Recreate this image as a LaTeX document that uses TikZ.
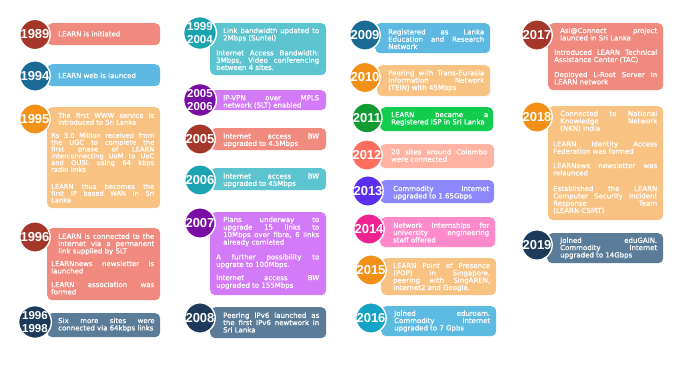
\documentclass[tikz,border=0pt]{standalone}
\usepackage{fontspec}
\setmainfont{DejaVu Sans}
\newfontfamily\txfont{DejaVu Sans}[FakeBold=0.8]
\newfontfamily\yrfont{Liberation Sans}
\hbadness=10000
\hfuzz=3pt
\tolerance=10000
\definecolor{salB}{HTML}{F08A7E}
\definecolor{redC}{HTML}{A5372A}
\definecolor{bluB}{HTML}{5DB8E2}
\definecolor{bluC}{HTML}{1B6A96}
\definecolor{orgB}{HTML}{F8C282}
\definecolor{orgC}{HTML}{F29018}
\definecolor{slaB}{HTML}{5B7C98}
\definecolor{navC}{HTML}{1D3A5A}
\definecolor{teaB}{HTML}{5CC4CE}
\definecolor{teaC}{HTML}{1AA3B0}
\definecolor{purB}{HTML}{D27AF8}
\definecolor{purC}{HTML}{7A0DA6}
\definecolor{grnB}{HTML}{12CC4E}
\definecolor{grnC}{HTML}{139B33}
\definecolor{pchB}{HTML}{FFB3A3}
\definecolor{corC}{HTML}{FF6E5E}
\definecolor{perB}{HTML}{8C87FF}
\definecolor{perC}{HTML}{5B2EEF}
\definecolor{pnkB}{HTML}{FF8ACB}
\definecolor{pnkC}{HTML}{EE2290}
\definecolor{cyaB}{HTML}{5DBAE0}
\definecolor{cyaC}{HTML}{14A3C4}
\tikzset{
  yr/.style={circle, fill=#1, draw=white, line width=1.4pt, minimum size=30pt,
    inner sep=0pt, text=white, font=\yrfont\bfseries\fontsize{13}{13}\selectfont},
  yrtwo/.style={yr=#1, align=center, font=\yrfont\bfseries\fontsize{11.5}{12.3}\selectfont},
  bx/.style={rectangle, fill=#1, rounded corners=5pt, inner sep=0pt, anchor=north west},
  tx/.style={anchor=north west, inner sep=0pt, text=white, align=justify, yshift=-0.6pt,
    text width=#1, font=\txfont\fontsize{7}{7.3}\selectfont},
  txs/.style={tx=#1, font=\txfont\fontsize{6.7}{6.8}\selectfont},
}
\begin{document}
\begin{tikzpicture}[x=1pt,y=-1pt]
\useasboundingbox (0,0) rectangle (680,374);
% ---------- boxes ----------
\node[bx=salB, minimum width=113pt, minimum height=22pt] (b1989) at (47,23) {};
\node[bx=bluB, minimum width=113pt, minimum height=22pt] (b1994) at (47,64) {};
\node[bx=orgB, minimum width=113pt, minimum height=101pt] (b1995) at (47,107) {};
\node[bx=salB, minimum width=113pt, minimum height=72pt] (b1996) at (47,228) {};
\node[bx=slaB, minimum width=113pt, minimum height=24pt] (b9698) at (47,313) {};
\node[bx=teaB, minimum width=116pt, minimum height=52pt] (b9904) at (210,23) {};
\node[bx=purB, minimum width=116pt, minimum height=20pt] (b0506) at (210,90) {};
\node[bx=salB, minimum width=116pt, minimum height=22pt] (b2005) at (210,128) {};
\node[bx=teaB, minimum width=116pt, minimum height=22pt] (b2006) at (210,168) {};
\node[bx=purB, minimum width=116pt, minimum height=83pt] (b2007) at (210,212) {};
\node[bx=slaB, minimum width=116pt, minimum height=31pt] (b2008) at (210,307) {};
\node[bx=bluB, minimum width=115pt, minimum height=30pt] (b2009) at (375,23) {};
\node[bx=orgB, minimum width=113pt, minimum height=31pt] (b2010) at (377,65) {};
\node[bx=grnB, minimum width=113pt, minimum height=24pt] (b2011) at (380,107) {};
\node[bx=pchB, minimum width=114pt, minimum height=24pt] (b2012) at (380,144) {};
\node[bx=perB, minimum width=114pt, minimum height=23pt] (b2013) at (380,180) {};
\node[bx=pnkB, minimum width=115pt, minimum height=30pt] (b2014) at (380,217) {};
\node[bx=orgB, minimum width=115pt, minimum height=37pt] (b2015) at (381,258) {};
\node[bx=cyaB, minimum width=115pt, minimum height=30pt] (b2016) at (381,306) {};
\node[bx=salB, minimum width=115pt, minimum height=67pt] (b2017) at (548,23) {};
\node[bx=orgB, minimum width=115pt, minimum height=114pt] (b2018) at (548,106) {};
\node[bx=slaB, minimum width=116pt, minimum height=30pt] (b2019) at (547,233) {};
% ---------- year circles ----------
\node[yr=redC] (c1989) at (35,34.5) {1989};
\node[yr=bluC] (c1994) at (35,76) {1994};
\node[yr=orgC] (c1995) at (35,119) {1995};
\node[yr=redC] (c1996) at (35,237) {1996};
\node[yrtwo=navC] (c9698) at (35,322) {1996\\1998};
\node[yrtwo=teaC] (c9904) at (200,33) {1999\\2004};
\node[yrtwo=purC] (c0506) at (200,100) {2005\\2006};
\node[yr=redC] (c2005) at (200,139) {2005};
\node[yr=teaC] (c2006) at (200,180) {2006};
\node[yr=purC] (c2007) at (200,223) {2007};
\node[yr=navC] (c2008) at (200,318) {2008};
\node[yr=bluC] (c2009) at (365,35) {2009};
\node[yr=orgC] (c2010) at (365,77.5) {2010};
\node[yr=grnC] (c2011) at (367,118) {2011};
\node[yr=corC] (c2012) at (367,155) {2012};
\node[yr=perC] (c2013) at (368,191) {2013};
\node[yr=pnkC] (c2014) at (369,229) {2014};
\node[yr=orgC] (c2015) at (371,270) {2015};
\node[yr=cyaC] (c2016) at (371,318) {2016};
\node[yr=redC] (c2017) at (537,35) {2017};
\node[yr=orgC] (c2018) at (537,117) {2018};
\node[yr=navC] (c2019) at (537,245) {2019};
% ---------- texts: column 1 ----------
\node[tx=96pt] (t1989) at (58,30.3) {LEARN is initiated};
\node[tx=96pt] (t1994) at (58,72) {LEARN web is launced};
\node[txs=96pt] (t1995a) at (58,112) {The first WWW service is\linebreak introduced to Sri Lanka};
\node[txs=103pt] (t1995b) at (51,132) {Rs 3.0 Million received from\linebreak the UGC to complete the\linebreak first phase of LEARN\linebreak interconnecting UoM to UoC\linebreak and OUSL using 64 kbps\linebreak radio links};
\node[txs=103pt] (t1995c) at (51,183) {LEARN thus becomes the\linebreak first IP based WAN in Sri\linebreak Lanka};
\node[tx=96pt] (t1996a) at (58,232.7) {LEARN is connected to the\linebreak internet via a permanent\linebreak link supplied by SLT};
\node[tx=103pt] (t1996b) at (51,260) {LEARNnews newsletter is\linebreak launched};
\node[tx=103pt] (t1996c) at (51,281) {LEARN association was\linebreak formed};
\node[tx=96.5pt] (t9698) at (58,317) {Six more sites were\linebreak \mbox{connected via 64kbps links}};
% ---------- texts: column 2 ----------
\node[tx=96pt] (t9904a) at (223,27) {Link bandwidth updated to\linebreak 2Mbps (Suntel)};
\node[tx=103pt] (t9904b) at (216,49.3) {Internet Access Bandwidth:\linebreak 3Mbps, Video conferencing\linebreak between 4 sites.};
\node[tx=96pt] (t0506) at (223,94.3) {IP-VPN over MPLS\linebreak network (SLT) enabled};
\node[tx=96pt] (t2005) at (223,132.7) {Internet access BW\linebreak upgraded to 4.5Mbps};
\node[tx=96pt] (t2006) at (223,172.7) {Internet access BW\linebreak upgraded to 45Mbps};
\node[tx=96pt, font=\txfont\fontsize{7}{7.5}\selectfont] (t2007a) at (223,216) {Plans underway to\linebreak upgrade 15 links to\linebreak 10Mbps over fibre, 6 links\linebreak already comleted};
\node[tx=103pt, font=\txfont\fontsize{7}{7.5}\selectfont] (t2007b) at (216,253.3) {A further possibility to\linebreak upgrate to 100Mbps.};
\node[tx=103pt, font=\txfont\fontsize{7}{7.5}\selectfont] (t2007c) at (216,274.3) {Internet access BW\linebreak upgraded to 155Mbps};
\node[tx=96pt] (t2008) at (223,311.7) {Peering IPv6 launched as\linebreak the first IPv6 newtwork in\linebreak Sri Lanka};
% ---------- texts: column 3 ----------
\node[tx=96pt] (t2009) at (388,28.3) {Registered as Lanka\linebreak Education and Research\linebreak Network};
\node[tx=96pt] (t2010) at (388,69.3) {Peering with Trans-Eurasia\linebreak Information Network\linebreak (TEIN) with 45Mbps};
\node[tx=97pt] (t2011) at (391,111) {LEARN became a\linebreak \mbox{Registered ISP in Sri Lanka}};
\node[tx=96pt] (t2012) at (391,148.3) {20 sites around Colombo\linebreak were connected};
\node[tx=96pt] (t2013) at (393,185) {Commodity Internet\linebreak upgraded to 1.65Gbps};
\node[tx=96pt] (t2014) at (393,221.7) {Network Internships for\linebreak university engineering\linebreak staff offered};
\node[tx=97pt] (t2015) at (393,262) {LEARN Point of Presence\linebreak (POP) in Singapore,\linebreak peering with SingAREN,\linebreak Internet2 and Google.};
\node[tx=96pt] (t2016) at (394,309.7) {Joined eduroam.\linebreak Commodity internet\linebreak upgraded to 7 Gpbs};
% ---------- texts: column 4 ----------
\node[tx=97pt] (t2017a) at (560,27) {Asi@Connect project\linebreak launced in Sri Lanka};
\node[tx=103pt] (t2017b) at (554,48.7) {Introduced LEARN Technical\linebreak Assistance Center (TAC)};
\node[tx=103pt] (t2017c) at (554,71) {Deployed L-Root Server in\linebreak LEARN network};
\node[tx=97pt] (t2018a) at (560,110) {Connected to National\linebreak Knowledge Network\linebreak (NKN) India};
\node[tx=104pt] (t2018b) at (553,140.3) {LEARN Identity Access\linebreak Federation was formed};
\node[tx=104pt] (t2018c) at (553,162) {LEARNews newsletter was\linebreak relaunced};
\node[tx=104pt] (t2018d) at (553,185) {Established the LEARN\linebreak Computer Security Incident\linebreak Response Team\linebreak (LEARN-CSIRT)};
\node[tx=97pt] (t2019) at (560,236.7) {Joined eduGAIN.\linebreak Commodity Internet\linebreak upgraded to 14Gbps};
\end{tikzpicture}
\end{document}
